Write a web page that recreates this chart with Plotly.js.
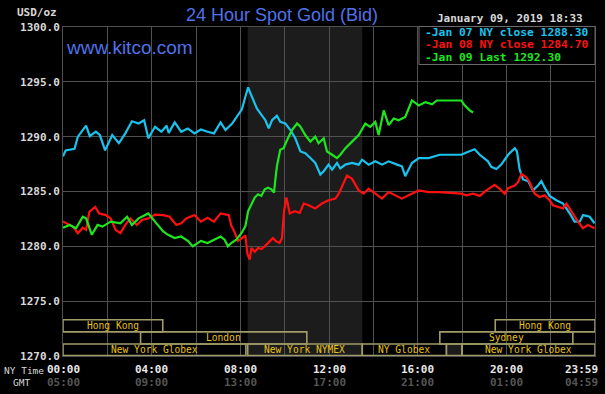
<!DOCTYPE html>
<html>
<head>
<meta charset="utf-8">
<script src="https://cdn.plot.ly/plotly-3.0.1.min.js"></script>
<style>
html,body{margin:0;padding:0;background:#000;}
#chart{width:605px;height:394px;}
</style>
</head>
<body>
<div id="chart"></div>
<script>
// ---- Data (hours since 00:00 NY time, USD/oz) ----
const jan07Hours = [0.00,0.12,0.52,0.67,0.89,1.04,1.21,1.48,1.66,1.90,2.22,2.52,2.81,3.11,3.41,3.66,3.85,4.15,4.44,4.67,4.77,5.04,5.33,5.63,5.93,6.22,6.52,6.81,7.11,7.33,7.63,7.93,8.07,8.22,8.35,8.53,8.75,9.13,9.28,9.43,9.65,9.80,10.03,10.26,10.48,10.71,10.93,11.16,11.38,11.61,11.76,11.98,12.14,12.36,12.51,12.74,13.04,13.34,13.49,13.79,14.09,14.39,14.69,15.07,15.29,15.44,15.74,16.05,16.50,16.99,17.97,18.20,18.57,18.80,19.17,19.32,19.55,19.77,20.08,20.38,20.48,20.60,20.75,20.98,21.20,21.43,21.58,21.73,21.95,22.26,22.56,22.86,23.08,23.31,23.46,23.76,23.98];
const jan07Values = [1288.2,1288.75,1288.9,1290.0,1290.6,1291.0,1290.05,1290.45,1290.15,1288.75,1290.15,1289.4,1290.3,1291.4,1291.2,1291.5,1289.85,1290.9,1290.45,1291.0,1290.35,1291.3,1290.45,1290.75,1290.3,1290.65,1290.45,1290.3,1291.3,1290.6,1291.2,1292.1,1292.5,1293.6,1294.5,1293.6,1292.55,1291.5,1290.75,1291.5,1291.9,1291.35,1291.2,1290.6,1289.85,1288.65,1288.5,1288.05,1287.6,1286.55,1286.85,1287.45,1287.0,1287.6,1287.1,1287.45,1287.6,1287.45,1287.9,1287.45,1287.75,1287.45,1287.75,1287.45,1287.3,1286.4,1287.6,1288.05,1288.05,1288.35,1288.35,1288.55,1288.85,1288.35,1287.75,1287.25,1287.05,1287.45,1288.35,1288.95,1288.65,1287.0,1286.1,1285.95,1285.1,1285.55,1285.95,1285.35,1284.6,1284.2,1283.9,1283.0,1282.25,1282.25,1282.85,1282.7,1282.1];

const jan08Hours = [0.00,0.22,0.44,0.67,0.89,1.04,1.19,1.45,1.63,1.93,2.15,2.37,2.59,2.81,3.04,3.33,3.56,3.85,4.15,4.52,4.81,5.11,5.33,5.56,5.93,6.22,6.52,6.81,7.11,7.48,7.59,7.74,7.89,8.05,8.23,8.32,8.42,8.50,8.65,8.80,8.95,9.10,9.32,9.47,9.62,9.77,9.88,9.97,10.08,10.23,10.45,10.68,10.86,11.08,11.38,11.68,11.98,12.29,12.44,12.66,12.81,13.04,13.34,13.56,13.79,14.09,14.39,14.69,14.99,15.29,15.59,16.05,16.50,16.99,17.97,18.20,18.50,18.80,19.10,19.47,19.70,19.92,20.08,20.38,20.53,20.68,20.90,21.05,21.28,21.50,21.73,21.95,22.10,22.33,22.56,22.71,22.93,23.23,23.46,23.68,23.98];
const jan08Values = [1282.26,1282.0,1281.8,1281.2,1281.7,1281.5,1283.15,1283.6,1283.0,1282.85,1282.55,1281.5,1281.2,1281.95,1282.55,1281.95,1282.4,1282.55,1282.9,1282.85,1282.7,1281.95,1282.1,1282.55,1282.85,1282.25,1282.6,1282.25,1283.0,1282.85,1281.9,1281.3,1280.5,1280.7,1281.0,1279.3,1278.8,1279.85,1279.5,1279.85,1279.75,1280.0,1280.45,1280.75,1280.45,1280.3,1280.75,1283.2,1284.45,1283.0,1283.2,1283.05,1283.9,1283.75,1283.45,1283.9,1284.2,1284.35,1284.8,1285.85,1286.45,1286.15,1285.1,1284.8,1285.25,1284.8,1284.35,1284.95,1284.65,1284.35,1284.65,1285.1,1284.95,1284.95,1284.8,1284.65,1284.8,1284.6,1285.1,1285.6,1285.25,1284.8,1285.3,1285.55,1285.85,1286.6,1286.3,1285.85,1284.8,1284.5,1284.65,1284.2,1283.75,1283.6,1283.45,1283.9,1283.15,1282.25,1281.65,1281.95,1281.65];

const jan09Hours = [0.00,0.30,0.59,0.89,1.04,1.30,1.56,1.78,2.15,2.59,2.89,3.11,3.41,3.85,4.15,4.52,4.74,5.04,5.33,5.63,5.85,6.22,6.52,6.81,7.11,7.29,7.44,7.59,7.82,8.05,8.23,8.35,8.50,8.65,8.80,8.95,9.10,9.25,9.40,9.52,9.58,9.65,9.80,9.95,10.11,10.33,10.56,10.71,10.93,11.16,11.38,11.53,11.76,11.91,12.14,12.36,12.51,12.74,13.04,13.34,13.64,13.86,14.09,14.24,14.47,14.69,14.92,15.14,15.44,15.74,16.05,16.35,16.65,16.86,17.97,18.12,18.35,18.50];
const jan09Values = [1281.7,1281.95,1281.65,1282.7,1282.55,1281.05,1281.95,1281.8,1282.25,1282.1,1282.7,1281.95,1282.55,1283.0,1282.25,1281.35,1281.05,1280.75,1280.9,1280.5,1280.0,1280.5,1280.3,1280.6,1280.9,1280.6,1280.0,1280.3,1280.6,1281.2,1281.85,1283.2,1283.8,1284.45,1284.75,1284.6,1285.2,1285.35,1285.2,1284.9,1286.1,1287.3,1288.8,1288.95,1289.7,1290.6,1291.2,1290.9,1290.15,1289.55,1290.0,1289.4,1289.85,1288.65,1288.35,1288.05,1288.35,1288.95,1289.55,1290.15,1291.2,1290.9,1291.35,1290.15,1292.4,1291.05,1291.65,1291.5,1291.8,1293.3,1292.85,1293.15,1292.95,1293.3,1293.3,1292.85,1292.4,1292.2];

const seriesNames = ['Jan 07 NY close','Jan 08 NY close','Jan 09 Last'];
const seriesClose = [1288.30, 1284.70, 1292.30];

const tickHours = [0,4,8,12,16,20,24];
const nyTimeLabels = ['00:00','04:00','08:00','12:00','16:00','20:00','23:59'];
const gmtLabels = ['05:00','09:00','13:00','17:00','21:00','01:00','04:59'];

const sessionNames = ['Hong Kong','London','New York Globex','New York NYMEX','NY Globex','','New York Globex','Sydney','Hong Kong'];
const sessionStart = [0,3.5,0,8.333,13.5,17.3,18,17,19.5];
const sessionEnd   = [4.5,11,8.25,13.5,17.3,18,24,23,24];
const sessionRow   = [0,1,2,2,2,2,2,1,0];

const nymexStart = 8.333, nymexEnd = 13.5;
const stampText = 'January 09, 2019 18:33';

// ---- Styles ----
const colors = ['#19c3ee','#ff1010','#1ee61e'];
const mono = 'DejaVu Sans Mono, Liberation Mono, monospace';
const sans = 'Liberation Sans, Arial, sans-serif';
const blue = '#4f72ea';
const gridC = '#505050';
const boxLine = '#a09b68';
const boxText = '#e6c21a';

const W = 605, H = 394, L = 63, R = 10, T = 27, B = 38;
const pw = W - L - R, ph = H - T - B;
const px = v => (v - L) / pw;          // pixel x -> paper
const py = v => (H - B - v) / ph;      // pixel y -> paper

const hours = [jan07Hours, jan08Hours, jan09Hours];
const vals = [jan07Values, jan08Values, jan09Values];
const traces = hours.map((h, i) => ({
  type: 'scatter', mode: 'lines', x: h, y: vals[i], name: seriesNames[i],
  line: {color: colors[i], width: 2.2}, hoverinfo: 'skip'
}));

const shapes = [];
const annotations = [];

// NYMEX shaded period
shapes.push({type:'rect', xref:'x', yref:'paper', x0:nymexStart, x1:nymexEnd, y0:0, y1:1,
  fillcolor:'#1b1c1b', line:{width:0}, layer:'below'});

// market sessions
const rowH = 1.1, rowTop0 = 1273.3;
sessionNames.forEach((nm, i) => {
  const top = rowTop0 - sessionRow[i] * rowH;
  const bot = Math.max(top - rowH, 1270.05);
  shapes.push({type:'rect', xref:'x', yref:'y', x0:sessionStart[i], x1:sessionEnd[i], y0:bot, y1:top,
    line:{color:boxLine, width:1.6}, fillcolor: nm === '' ? '#1b1c1b' : 'rgba(0,0,0,0)', layer:'above'});
  if (nm) annotations.push({xref:'x', yref:'y', x:(sessionStart[i]+sessionEnd[i])/2, y:(top+bot)/2,
    text:nm, showarrow:false, font:{family:mono, size:9.6, color:boxText}, xanchor:'center', yanchor:'middle'});
});

// legend box
shapes.push({type:'rect', xref:'paper', yref:'paper', x0:px(419), x1:px(595), y0:py(64.5), y1:py(26.5),
  fillcolor:'#000', line:{color:'#6a6a6a', width:1}, layer:'above'});
const legendY = [32.7, 44.5, 57.3];
seriesNames.forEach((nm, i) => {
  annotations.push({xref:'paper', yref:'paper', x:px(423), y:py(legendY[i]), xanchor:'left', yanchor:'middle',
    text:'-' + nm + ' ' + seriesClose[i].toFixed(2), showarrow:false,
    font:{family:mono, size:11.3, color:colors[i], weight:'bold'}});
});

// x tick labels
tickHours.forEach((h, i) => {
  const last = i === tickHours.length - 1;
  annotations.push({xref:'x', yref:'paper', x:h, y:py(369.5), text:nyTimeLabels[i], showarrow:false,
    xanchor: last ? 'right' : 'center', xshift: last ? 5 : 0, yanchor:'middle',
    font:{family:mono, size:11, color:'#e8e8e8', weight:'bold'}});
  annotations.push({xref:'x', yref:'paper', x:h, y:py(382), text:gmtLabels[i], showarrow:false,
    xanchor: last ? 'right' : 'center', xshift: last ? 5 : 0, yanchor:'middle',
    font:{family:mono, size:11, color:'#555555', weight:'bold'}});
});
annotations.push({xref:'paper', yref:'paper', x:px(2), y:py(370), xanchor:'left', yanchor:'middle',
  text:'NY Time', showarrow:false, font:{family:mono, size:9.5, color:'#d8d8d8'}});
annotations.push({xref:'paper', yref:'paper', x:px(11), y:py(382), xanchor:'left', yanchor:'middle',
  text:'GMT', showarrow:false, font:{family:mono, size:9.5, color:'#d8d8d8'}});

// top texts
annotations.push({xref:'paper', yref:'paper', x:px(59), y:py(13), xanchor:'right', yanchor:'middle',
  text:'USD/oz', showarrow:false, font:{family:mono, size:11, color:'#d8d8d8', weight:'bold'}});
annotations.push({xref:'paper', yref:'paper', x:px(585), y:py(18.5), xanchor:'right', yanchor:'middle',
  text:stampText, showarrow:false, font:{family:mono, size:11, color:'#d8d8d8', weight:'bold'}});
annotations.push({xref:'paper', yref:'paper', x:px(64), y:py(47), xanchor:'left', yanchor:'middle',
  text:'www.kitco.com', showarrow:false, font:{family:sans, size:19, color:blue}});

const layout = {
  width: W, height: H,
  margin: {l:L, r:R, t:T, b:B, pad:0},
  paper_bgcolor: '#000', plot_bgcolor: '#000',
  showlegend: false,
  title: {text:'24 Hour Spot Gold (Bid)', x:282/W, xref:'container', xanchor:'center',
          y:1 - 15/H, yref:'container', yanchor:'middle',
          font:{family:sans, size:18, color:blue}},
  xaxis: {range:[0,24], tickvals:[0,2,4,6,8,10,12,14,16,18,20,22,24], showticklabels:false,
          showgrid:true, gridcolor:gridC, gridwidth:1, zeroline:false, ticks:'',
          showline:true, mirror:true, linecolor:gridC, linewidth:1, fixedrange:true},
  yaxis: {range:[1270,1300], tickvals:[1270,1275,1280,1285,1290,1295,1300], tickformat:'.1f',
          showgrid:true, gridcolor:gridC, gridwidth:1, zeroline:false, ticks:'',
          showline:true, mirror:true, linecolor:gridC, linewidth:1, fixedrange:true,
          tickfont:{family:mono, size:11, color:'#d8d8d8', weight:'bold'}},
  shapes: shapes,
  annotations: annotations
};

Plotly.newPlot('chart', traces, layout, {displayModeBar:false, staticPlot:true});
</script>
</body>
</html>
